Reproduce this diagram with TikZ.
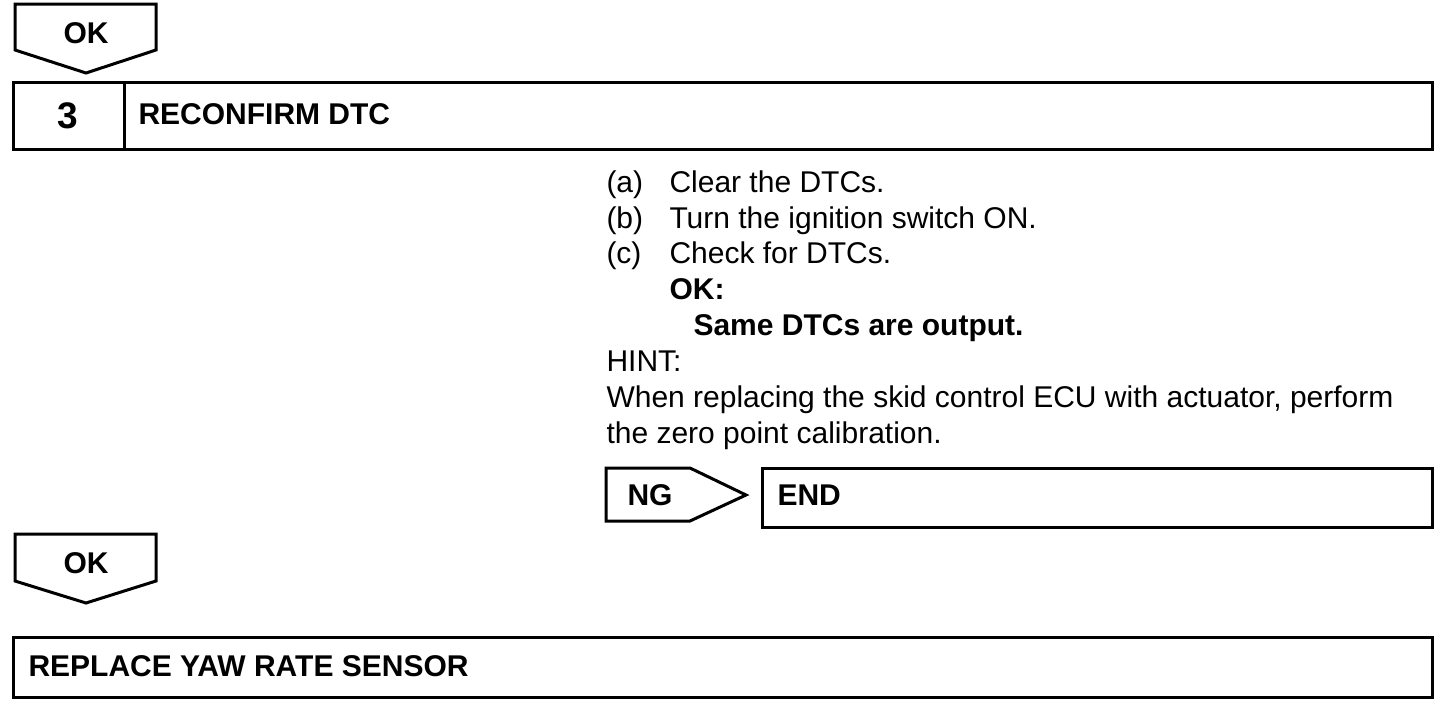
\documentclass[tikz,border=0pt]{standalone}
\usepackage{fontspec}
\setmainfont{Liberation Sans}
\begin{document}
\begin{tikzpicture}[x=1pt,y=-1pt,line width=3pt,
  txt/.style={font=\fontsize{30}{34}\selectfont,anchor=base west,inner sep=0pt},
  btxt/.style={font=\bfseries\fontsize{30}{34}\selectfont,anchor=base west,inner sep=0pt},
  ctxt/.style={font=\bfseries\fontsize{30}{34}\selectfont,anchor=base,inner sep=0pt},
  shp/.style={draw,line width=3pt}]
\useasboundingbox (0,0) rectangle (1456,704);
% top OK
\draw[shp] (15,4) -- (156,4) -- (156,50) -- (86,73) -- (15,50) -- cycle;
\node[ctxt] (ok1) at (86,43) {OK};
% step 3 box
\draw[shp] (13,82) rectangle (1432,149);
\draw[shp] (124,82) -- (124,149);
\node[font=\bfseries\fontsize{37}{40}\selectfont,anchor=base,inner sep=0pt] (num) at (68,128) {3};
\node[btxt] (title) at (137,124) {RECONFIRM DTC};
% text lines
\node[txt] (la) at (605,192) {(a)};
\node[txt] (ta) at (668,192) {Clear the DTCs.};
\node[txt] (lb) at (605,228) {(b)};
\node[txt] (tb) at (668,228) {Turn the ignition switch ON.};
\node[txt] (lc) at (605,263) {(c)};
\node[txt] (tc) at (668,263) {Check for DTCs.};
\node[btxt] (okl) at (668,299) {OK:};
\node[btxt] (same) at (692,335) {Same DTCs are output.};
\node[txt] (hint) at (605,371) {HINT:};
\node[txt] (h1) at (605,407) {When replacing the skid control ECU with actuator, perform};
\node[txt] (h2) at (605,443) {the zero point calibration.};
% NG
\draw[shp] (606,468) -- (690,468) -- (746,495) -- (690,521) -- (606,521) -- cycle;
\node[ctxt] (ng) at (650,505) {NG};
\draw[shp] (762,468) rectangle (1432,527);
\node[btxt] (end) at (776,505) {END};
% bottom OK
\draw[shp] (15,534) -- (156,534) -- (156,581) -- (86,603) -- (15,581) -- cycle;
\node[ctxt] (ok2) at (86,573) {OK};
% replace box
\draw[shp] (13,637) rectangle (1432,697);
\node[btxt] (rep) at (27,676) {REPLACE YAW RATE SENSOR};
\end{tikzpicture}
\end{document}
